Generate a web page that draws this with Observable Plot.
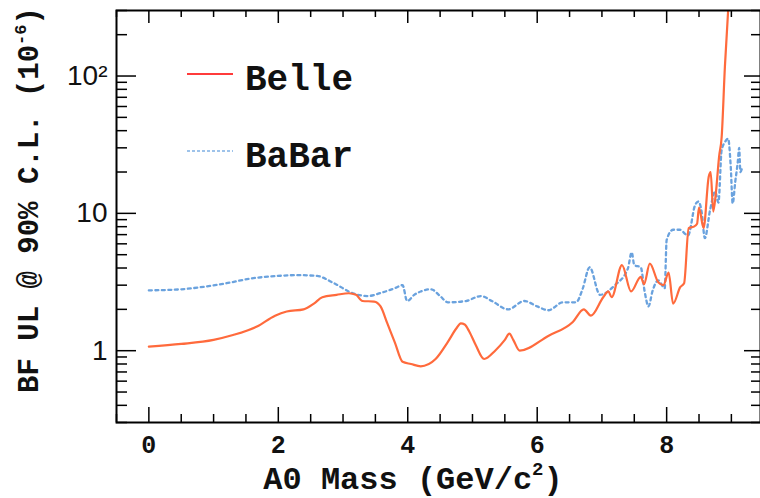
<!DOCTYPE html>
<html><head><meta charset="utf-8">
<script src="https://cdn.jsdelivr.net/npm/d3@7"></script>
<script src="https://cdn.jsdelivr.net/npm/@observablehq/plot@0.6"></script>
<style>body{margin:0;background:#fff}#chart{width:760px;height:498px}</style>
</head><body><div id="chart"></div>
<script>
// ---- data ----
const belleMass = [0, 0.5, 1.0, 1.3, 1.67, 1.95, 2.13, 2.39, 2.55, 2.68, 2.9, 3.09, 3.2, 3.3, 3.48, 3.58, 3.68, 3.8, 3.92, 4.05, 4.2, 4.43, 4.62, 4.75, 4.82, 4.88, 4.95, 5.05, 5.18, 5.35, 5.5, 5.57, 5.63, 5.73, 6.17, 6.55, 6.72, 6.83, 7.02, 7.1, 7.15, 7.31, 7.45, 7.6, 7.65, 7.74, 7.87, 7.95, 8.03, 8.1, 8.21, 8.27, 8.34, 8.42, 8.47, 8.5, 8.57, 8.65, 8.68, 8.72, 8.76, 8.81, 8.85, 8.9, 8.95];
const belleUL   = [1.07, 1.12, 1.2, 1.3, 1.5, 1.8, 1.93, 2.0, 2.2, 2.45, 2.55, 2.62, 2.55, 2.3, 2.28, 2.1, 1.6, 1.15, 0.83, 0.8, 0.77, 0.87, 1.16, 1.45, 1.58, 1.55, 1.38, 1.1, 0.87, 1.0, 1.2, 1.33, 1.2, 1.0, 1.28, 1.62, 2.0, 1.8, 2.45, 2.7, 2.45, 4.2, 2.7, 3.45, 3.05, 4.3, 3.15, 3.0, 3.7, 2.2, 2.9, 3.1, 7.8, 8.0, 8.4, 11, 7.8, 18.5, 20, 10.3, 14, 25.8, 36, 117, 300];
const babarMass = [0, 0.5, 0.8, 1.2, 1.57, 1.98, 2.3, 2.6, 2.86, 3.17, 3.38, 3.6, 3.8, 3.92, 3.99, 4.1, 4.2, 4.36, 4.5, 4.62, 4.9, 5.13, 5.3, 5.55, 5.8, 6.0, 6.17, 6.4, 6.6, 6.7, 6.81, 6.97, 7.2, 7.4, 7.46, 7.5, 7.6, 7.66, 7.72, 7.78, 7.87, 7.97, 8.0, 8.1, 8.2, 8.33, 8.44, 8.49, 8.54, 8.59, 8.67, 8.75, 8.8, 8.85, 8.9, 8.95, 8.99, 9.02, 9.06, 9.1, 9.12, 9.14, 9.17];
const babarUL   = [2.75, 2.8, 2.9, 3.1, 3.35, 3.5, 3.55, 3.5, 3.1, 2.6, 2.5, 2.65, 2.85, 3.0, 2.3, 2.55, 2.7, 2.8, 2.5, 2.25, 2.3, 2.5, 2.3, 2.0, 2.3, 2.1, 1.97, 2.25, 2.25, 2.8, 4.05, 2.55, 3.0, 3.95, 5.2, 4.2, 4.05, 2.7, 2.1, 2.7, 3.25, 2.85, 6.4, 7.6, 7.6, 6.9, 11.5, 12.2, 10.3, 6.6, 10.5, 14.4, 12, 29, 33, 35, 22, 11.8, 17, 24, 30, 20, 22];
const seriesNames = ["Belle", "BaBar"];
const xTicks = [0, 2, 4, 6, 8];
const xTickLabels = ["0", "2", "4", "6", "8"];
const yTicks = [1, 10, 100];
const yTickLabels = ["1", "10", "10²"];
const xTitle = ["A0 Mass (GeV/c", "2", ")"];
const yTitle = ["BF UL @ 90% C.L. (10", "-6", ")"];

// ---- derived tables ----
const belle = belleMass.map((m, i) => ({m, v: belleUL[i]}));
const babar = babarMass.map((m, i) => ({m, v: babarUL[i]}));
const xMinor = d3.range(-0.5, 9.5, 0.5).filter(v => !xTicks.includes(v));
const yMinor = [];
for (const e of [0.1, 1, 10, 100]) for (let k = 2; k <= 9; k++) { const v = +(k * e).toFixed(3); if (v >= 0.3 && v <= 300) yMinor.push(v); }

const W = 760, H = 498, ML = 116, MR = 0, MT = 10, MB = 76;
const PW = W - ML - MR, PH = H - MT - MB;
const mono = "'Liberation Mono', 'Courier New', monospace";
const sans = "'Liberation Sans', Arial, sans-serif";
const belleColor = "#ff6a3c", babarColor = "#6aa2de";

const chart = Plot.plot({
  width: W, height: H, marginLeft: ML, marginRight: MR, marginTop: MT, marginBottom: MB,
  x: {domain: [-0.5, 9.45], axis: null},
  y: {type: "log", domain: [0.3, 300], axis: null},
  style: {background: "#fff", overflow: "visible"},
  marks: [
    Plot.line(babar, {x: "m", y: "v", stroke: babarColor, strokeWidth: 2.3, strokeDasharray: "3,3.5", curve: "monotone-x", clip: true}),
    Plot.line(belle, {x: "m", y: "v", stroke: belleColor, strokeWidth: 2.2, curve: "monotone-x", clip: true}),
    // inward ticks: bottom / top
    Plot.ruleX(xTicks, {x: d => d, insetTop: PH - 15, stroke: "#000", strokeWidth: 1.5}),
    Plot.ruleX(xMinor, {x: d => d, insetTop: PH - 8, stroke: "#000", strokeWidth: 1.5}),
    Plot.ruleX(xTicks, {x: d => d, insetBottom: PH - 13, stroke: "#000", strokeWidth: 1.5}),
    Plot.ruleX(xMinor, {x: d => d, insetBottom: PH - 7, stroke: "#000", strokeWidth: 1.5}),
    // inward ticks: left / right
    Plot.ruleY(yTicks, {y: d => d, insetRight: PW - 20, stroke: "#000", strokeWidth: 1.5}),
    Plot.ruleY(yMinor, {y: d => d, insetRight: PW - 11, stroke: "#000", strokeWidth: 1.5}),
    Plot.ruleY(yTicks, {y: d => d, insetLeft: PW - 16, stroke: "#000", strokeWidth: 1.5}),
    Plot.ruleY(yMinor, {y: d => d, insetLeft: PW - 9, stroke: "#000", strokeWidth: 1.5}),
    Plot.frame({stroke: "#000", strokeWidth: 2}),
    // tick labels
    Plot.text(xTicks, {x: d => d, text: (d, i) => xTickLabels[i], frameAnchor: "bottom", lineAnchor: "bottom", dy: 30,
      fontFamily: mono, fontWeight: "bold", fontSize: 25, fill: "#111"}),
    Plot.text(yTicks, {y: d => d, text: (d, i) => yTickLabels[i], frameAnchor: "left", textAnchor: "end", dx: -9,
      fontFamily: sans, fontSize: 28, fill: "#111"})
  ]
});
document.getElementById("chart").appendChild(chart);

// ---- axis titles and legend ----
const svg = d3.select(chart);
const xt = svg.append("text").attr("x", 413).attr("y", 489).attr("text-anchor", "middle")
  .attr("font-family", mono).attr("font-weight", "bold").attr("font-size", 32).attr("fill", "#111");
xt.append("tspan").text(xTitle[0]);
xt.append("tspan").attr("dy", -14).attr("font-size", 19).text(xTitle[1]);
xt.append("tspan").attr("dy", 14).text(xTitle[2]);

const yt = svg.append("text").attr("transform", "translate(38,200) rotate(-90)").attr("text-anchor", "middle")
  .attr("font-family", mono).attr("font-weight", "bold").attr("font-size", 29).attr("fill", "#111");
yt.append("tspan").text(yTitle[0]);
yt.append("tspan").attr("dy", -12).attr("font-size", 17).text(yTitle[1]);
yt.append("tspan").attr("dy", 12).text(yTitle[2]);

const legendStyles = [
  {color: "#ff3b3b", dash: null, lineY: 74, textY: 90},
  {color: "#9ec3ea", dash: "3,2", lineY: 151, textY: 167}
];
seriesNames.forEach((name, i) => {
  const s = legendStyles[i];
  const l = svg.append("line").attr("x1", 187).attr("x2", 233).attr("y1", s.lineY).attr("y2", s.lineY)
    .attr("stroke", s.color).attr("stroke-width", 2);
  if (s.dash) l.attr("stroke-dasharray", s.dash);
  svg.append("text").attr("x", 245).attr("y", s.textY).attr("text-anchor", "start").attr("font-family", mono).attr("font-weight", "bold")
    .attr("font-size", 36).attr("fill", "#111").text(name);
});
</script>
</body></html>
